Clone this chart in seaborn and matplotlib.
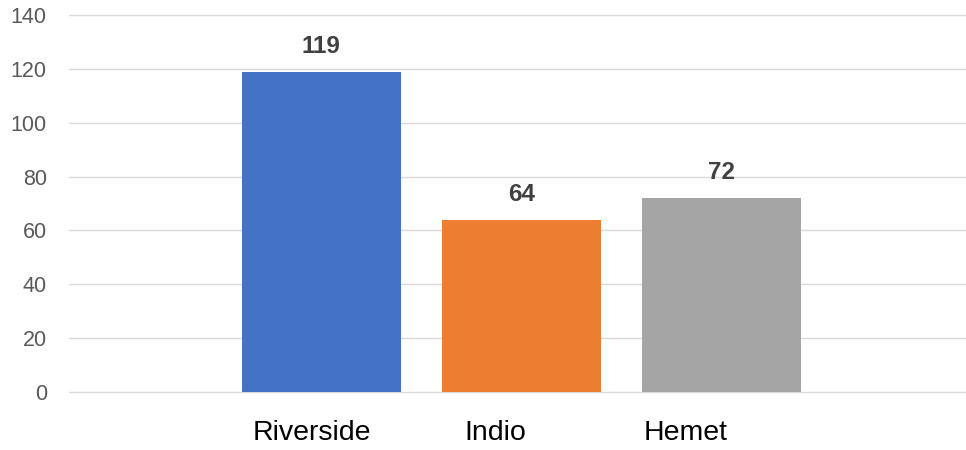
import matplotlib
matplotlib.use("Agg")
import matplotlib.pyplot as plt
import seaborn as sns
import pandas as pd

categories = ["Riverside", "Indio", "Hemet"]
values = [119, 64, 72]
colors = ["#4472C4", "#ED7D31", "#A5A5A5"]
y_ticks = [0, 20, 40, 60, 80, 100, 120, 140]
label_shift = [-0.045, -0.13, -0.18]  # horizontal offsets of category labels (layout)

sns.set_theme(style="white")
plt.rcParams["font.family"] = ["Liberation Sans", "DejaVu Sans"]

df = pd.DataFrame({"city": categories, "count": values})

fig = plt.figure(figsize=(9.66, 4.5), dpi=100)
ax = fig.add_axes([69 / 966, 1 - 392 / 450, 1 - 69 / 966, (392 - 15) / 450])

sns.barplot(data=df, x="city", y="count", hue="city", palette=colors,
            width=0.795, saturation=1, legend=False, ax=ax, zorder=3,
            linewidth=0, edgecolor="none")

ax.set_ylim(0, 140)
ax.set_xlim(-1.2625, 3.225)
ax.set_yticks(y_ticks)
ax.set_yticklabels([str(t) for t in y_ticks], fontsize=15.5, color="#595959")
ax.tick_params(axis="y", length=0, pad=16)
ax.tick_params(axis="x", length=0, pad=20)
ax.set_xticks([i + s for i, s in enumerate(label_shift)])
ax.set_xticklabels(categories, fontsize=20.5, color="#000000")
ax.grid(axis="y", color="#D9D9D9", linewidth=1.0, zorder=0)
for gl in ax.get_ygridlines():
    gl.set_clip_on(False)
ax.set_axisbelow(True)
for s in ax.spines.values():
    s.set_visible(False)
ax.set_xlabel("")
ax.set_ylabel("")

for cont in ax.containers:
    ax.bar_label(cont, fmt="%d", padding=10, fontsize=17.5, fontweight="bold", color="#404040")

fig.savefig("out.png", dpi=100)
